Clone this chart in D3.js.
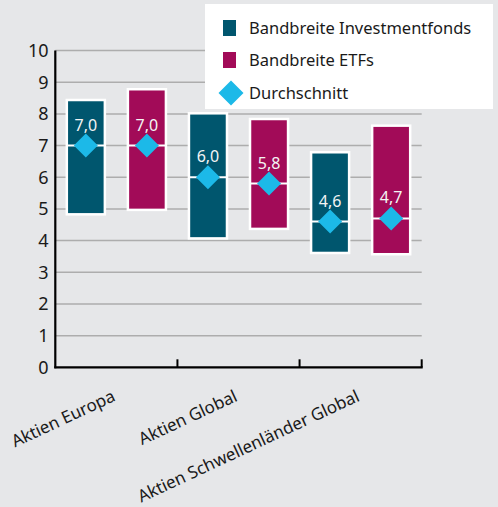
<!DOCTYPE html>
<html><head><meta charset="utf-8">
<script src="https://cdn.jsdelivr.net/npm/d3@7"></script>
<style>
html,body{margin:0;padding:0;background:#e6e7e9;}
svg{display:block;font-family:"Noto Sans",sans-serif;}
</style></head><body>
<div id="chart"></div>
<script>
const categories = ["Aktien Europa", "Aktien Global", "Aktien Schwellenländer Global"];
const seriesNames = ["Bandbreite Investmentfonds", "Bandbreite ETFs"];
const fondsMin = [4.83, 4.07, 3.61];
const fondsMax = [8.44, 8.02, 6.79];
const fondsAvg = [7.0, 6.0, 4.6];
const etfMin = [4.97, 4.37, 3.57];
const etfMax = [8.78, 7.84, 7.63];
const etfAvg = [7.0, 5.8, 4.7];
const avgLabel = "Durchschnitt";
const yTicks = [0,1,2,3,4,5,6,7,8,9,10];

const colors = {"Bandbreite Investmentfonds":"#00566e","Bandbreite ETFs":"#a20b58"};
const diamondColor = "#1cb9e8";

const W = 498, H = 507;
const svg = d3.select("#chart").append("svg").attr("width", W).attr("height", H);
svg.append("rect").attr("width", W).attr("height", H).attr("fill", "#e6e7e9");

const x0 = 55.3, x1 = 421.7, yTop = 50.6, yBot = 367.3;
const x = d3.scaleBand().domain(categories).range([x0, x1]).padding(0);
const xs = d3.scaleBand().domain(seriesNames).range([0, x.bandwidth()]).paddingInner(0.377).paddingOuter(0.1885);
const y = d3.scaleLinear().domain([0, 10]).range([yBot, yTop]);

// gridlines
svg.append("g").selectAll("line").data(yTicks.filter(d => d > 0)).join("line")
  .attr("x1", x0).attr("x2", x1)
  .attr("y1", d => y(d)).attr("y2", d => y(d))
  .attr("stroke", "#adadad").attr("stroke-width", 1.5);

// y labels
svg.append("g").selectAll("text").data(yTicks).join("text")
  .attr("x", 48.5).attr("y", d => y(d)).attr("dy", "0.36em")
  .attr("text-anchor", "end").attr("font-size", 18).attr("fill", "#1a1a1a")
  .text(d => d);

// data rows
const rows = [];
categories.forEach((c, i) => {
  rows.push({cat: c, s: seriesNames[0], min: fondsMin[i], max: fondsMax[i], avg: fondsAvg[i]});
  rows.push({cat: c, s: seriesNames[1], min: etfMin[i], max: etfMax[i], avg: etfAvg[i]});
});

const g = svg.append("g").selectAll("g").data(rows).join("g")
  .attr("transform", d => `translate(${x(d.cat) + xs(d.s)},0)`);
g.append("rect")
  .attr("x", 0).attr("width", xs.bandwidth())
  .attr("y", d => y(d.max)).attr("height", d => y(d.min) - y(d.max))
  .attr("fill", d => colors[d.s]).attr("stroke", "#fff").attr("stroke-width", 2.5);
g.append("line")
  .attr("x1", 0).attr("x2", xs.bandwidth())
  .attr("y1", d => y(d.avg)).attr("y2", d => y(d.avg))
  .attr("stroke", "#fff").attr("stroke-width", 2);
const dSize = 12;
g.append("path")
  .attr("d", d => {
    const cx = xs.bandwidth() / 2, cy = y(d.avg);
    return `M${cx},${cy - dSize}L${cx + dSize},${cy}L${cx},${cy + dSize}L${cx - dSize},${cy}Z`;
  })
  .attr("fill", diamondColor);
g.append("text")
  .attr("x", xs.bandwidth() / 2).attr("y", d => y(d.avg) - 15)
  .attr("text-anchor", "middle").attr("font-size", 16).attr("fill", "#f4f4f4")
  .text(d => d3.format(".1f")(d.avg).replace(".", ","));

// axes
svg.append("line").attr("x1", x0).attr("x2", x0).attr("y1", yTop).attr("y2", yBot + 1)
  .attr("stroke", "#000").attr("stroke-width", 2.2);
svg.append("line").attr("x1", x0 - 1).attr("x2", x1 + 1).attr("y1", yBot).attr("y2", yBot)
  .attr("stroke", "#000").attr("stroke-width", 2.2);
svg.append("g").selectAll("line").data(categories).join("line")
  .attr("x1", d => x(d) + x.bandwidth()).attr("x2", d => x(d) + x.bandwidth())
  .attr("y1", yBot).attr("y2", yBot - 8)
  .attr("stroke", "#000").attr("stroke-width", 2);

// x labels
svg.append("g").selectAll("text").data(categories).join("text")
  .attr("transform", d => `translate(${x(d) + x.bandwidth() / 2},${yBot + 33}) rotate(-25)`)
  .attr("text-anchor", "end").attr("font-size", 17).attr("fill", "#1a1a1a")
  .text(d => d);

// legend
const lg = svg.append("g");
lg.append("rect").attr("x", 205).attr("y", 4).attr("width", 288).attr("height", 105).attr("fill", "#fff");
const legendItems = seriesNames.map((s) => ({label: s, type: "sq", color: colors[s]}))
  .concat([{label: avgLabel, type: "dia", color: diamondColor}]);
const ly = [28, 60, 93];
const li = lg.selectAll("g").data(legendItems).join("g")
  .attr("transform", (d, i) => `translate(0,${ly[i]})`);
li.filter(d => d.type === "sq").append("rect")
  .attr("x", 223).attr("y", -8).attr("width", 13).attr("height", 16).attr("fill", d => d.color);
li.filter(d => d.type === "dia").append("path")
  .attr("d", "M231,-12.5L243.5,0L231,12.5L218.5,0Z").attr("fill", d => d.color);
li.append("text").attr("x", 249).attr("y", 0).attr("dy", "0.36em")
  .attr("font-size", 16.5).attr("fill", "#1a1a1a").text(d => d.label);
</script>
</body></html>
